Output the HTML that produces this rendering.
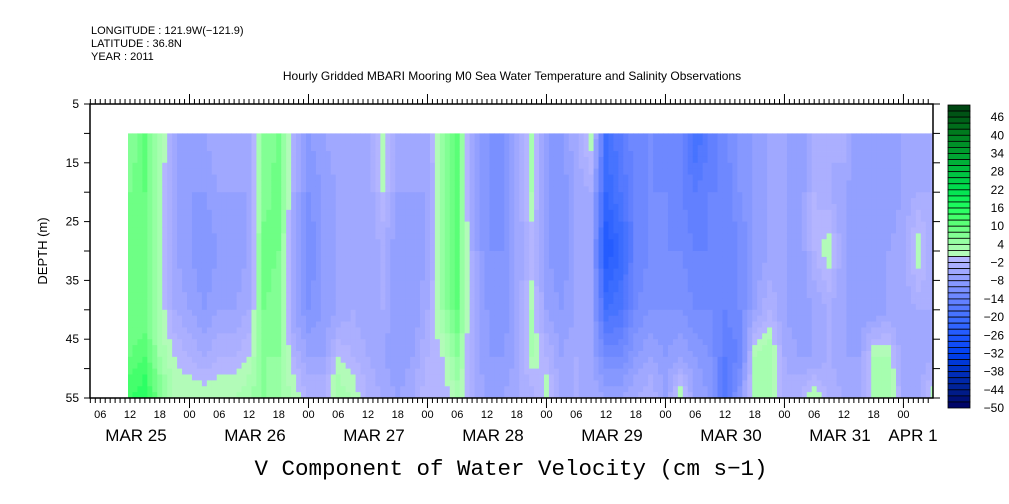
<!DOCTYPE html>
<html><head><meta charset="utf-8"><style>
body{margin:0;background:#fff}
svg{display:block;font-family:"Liberation Sans",sans-serif}
</style></head><body>
<svg id="chart" width="1009" height="504" viewBox="0 0 1009 504">
<g font-size="11" fill="#000">
<text x="91" y="34">LONGITUDE : 121.9W(−121.9)</text>
<text x="91" y="47">LATITUDE : 36.8N</text>
<text x="91" y="60">YEAR : 2011</text>
<text x="512" y="80" text-anchor="middle" font-size="12">Hourly Gridded MBARI Mooring M0 Sea Water Temperature and Salinity Observations</text>
</g>
<g id="cells"></g>
<g id="axes"></g>
<g id="cbar"></g>
<text x="47" y="251" transform="rotate(-90 47 251)" text-anchor="middle" font-size="13">DEPTH (m)</text>
<text x="511" y="475" text-anchor="middle" font-family="Liberation Mono,monospace" font-size="22.5">V Component of Water Velocity (cm s−1)</text>
</svg>
<script>
// hours since MAR 25 00:00, one column every 3 h
const hours = [12,15,18,21,24,27,30,33,36,39,42,45,48,51,54,57,60,63,66,69,72,75,78,81,84,87,90,93,96,99,102,105,108,111,114,117,120,123,126,129,132,135,138,141,144,147,150,153,156,159,162,165,168,171,174];
const depths = [10,20,30,40,48,55];
const vel = [
[6,8,8,8,10,14],[10,10,8,8,12,16],[4,2,2,2,4,8],[-6,-6,-6,-4,0,2],[-8,-8,-8,-6,-2,2],
[-6,-8,-10,-8,-4,2],[-4,-6,-8,-6,-2,2],[-4,-6,-8,-6,-2,2],[-4,-6,-6,-4,0,4],[6,6,10,8,6,6],
[8,10,8,6,6,4],[-4,-4,-6,-6,-2,2],[-8,-10,-12,-10,-6,-2],[-6,-8,-8,-8,-6,-2],[-4,-6,-6,-6,0,4],
[-4,-6,-6,-4,-2,2],[-4,-6,-6,-6,-4,-2],[2,0,-4,-4,-6,-4],[-4,-6,-8,-8,-8,-6],[-6,-6,-8,-8,-6,-4],
[-4,-6,-6,-4,-2,0],[4,4,4,4,0,-2],[10,10,10,10,6,2],[-6,-6,-4,-4,-4,-4],[-10,-10,-10,-8,-8,-6],
[-10,-12,-10,-10,-8,-6],[-6,-6,-6,-6,-6,-4],[2,2,-2,2,2,-4],[-8,-8,-8,-6,-2,2],[-8,-10,-10,-8,-6,-4],
[-4,-6,-6,-6,-4,-4],[2,-4,-6,-6,-6,-4],[-20,-22,-26,-20,-12,-6],[-16,-18,-22,-18,-12,-6],[-12,-14,-14,-12,-8,-4],
[-12,-12,-12,-10,-6,-2],[-14,-12,-12,-10,-8,-6],[-14,-14,-12,-10,-6,2],[-20,-16,-14,-12,-8,-6],[-16,-14,-14,-12,-10,-8],
[-12,-14,-14,-14,-16,-18],[-10,-10,-12,-12,-14,-8],[-8,-8,-8,-6,2,4],[-6,-6,-6,-2,4,2],[-6,-6,-6,-6,-4,-4],
[-8,-8,-8,-8,-6,-2],[-4,-2,-2,-6,-6,2],[-4,-4,2,-4,-4,-2],[-2,-6,-6,-6,-6,-4],[-8,-8,-8,-8,-6,-4],
[-8,-8,-8,-8,2,2],[-6,-8,-6,-6,2,4],[-6,-6,-4,-6,-6,-4],[-6,-4,2,-4,-6,-4],[-4,-4,-4,-4,-4,2]];
const cbarTicks = [46,40,34,28,22,16,10,4,-2,-8,-14,-20,-26,-32,-38,-44,-50];
const hourLabels = ["06","12","18","00","06","12","18","00","06","12","18","00","06","12","18","00","06","12","18","00","06","12","18","00","06","12","18","00","06","12","18","00"];
const dayLabels = ["MAR 25","MAR 26","MAR 27","MAR 28","MAR 29","MAR 30","MAR 31","APR 1"];
const depthTicks = [5,15,25,35,45,55];

const NS="http://www.w3.org/2000/svg";
const X0=70.5, PXH=4.958, L=90, R=933, T=104, B=398;
const xs=h=>X0+h*PXH, ys=d=>T+(d-5)/50*(B-T);
function el(tag,a,p){const e=document.createElementNS(NS,tag);for(const k in a)e.setAttribute(k,a[k]);p.appendChild(e);return e;}
const negStops=[[0,[184,184,255]],[-4,[166,172,255]],[-8,[140,156,255]],[-12,[116,140,255]],[-16,[92,124,255]],[-20,[64,112,255]],[-26,[32,88,255]],[-32,[0,64,240]],[-38,[0,48,192]],[-44,[0,32,144]],[-50,[0,0,96]]];
const posStops=[[0,[184,250,188]],[4,[160,255,170]],[8,[120,255,140]],[12,[80,255,112]],[16,[32,255,96]],[22,[0,224,80]],[28,[0,192,64]],[34,[0,160,48]],[40,[0,128,32]],[50,[0,64,16]]];
function color(v){
  const lv=Math.floor(v/2)*2+1;
  const st=lv<0?negStops:posStops; const a=Math.abs(lv);
  for(let i=0;i<st.length-1;i++){const a0=Math.abs(st[i][0]),a1=Math.abs(st[i+1][0]);
    if(a<=a1){const t=(a-a0)/(a1-a0);const c=st[i][1].map((c0,j)=>Math.round(c0+(st[i+1][1][j]-c0)*t));return `rgb(${c})`;}}
  return `rgb(${st[st.length-1][1]})`;
}
function valAt(ci,d){const col=vel[ci];for(let k=0;k<depths.length-1;k++){if(d<=depths[k+1]){const t=(d-depths[k])/(depths[k+1]-depths[k]);return col[k]+(col[k+1]-col[k])*t;}}return col[col.length-1];}
const cells=document.getElementById('cells');
for(let i=0;i<hours.length;i++){
  for(let s=0;s<3;s++){
    const h=hours[i]-1+s; if(i===0&&s===0)continue;
    const x=Math.max(128,xs(h-0.5)), x2=Math.min(R,xs(h+0.5)); if(x2<=x)continue;
    for(let d=10;d<55;d++){
      const ni=Math.min(hours.length-1,i+(s===2?1:0)), pi=Math.max(0,i-(s===0?1:0));
      let v=valAt(i,d+0.5);
      if(s===0)v=(2*v+valAt(pi,d+0.5))/3; if(s===2)v=(2*v+valAt(ni,d+0.5))/3;
      const r=el('rect',{x:x.toFixed(2),y:ys(d).toFixed(2),width:(x2-x+0.4).toFixed(2),height:(ys(d+1)-ys(d)+0.4).toFixed(2),fill:color(v)},cells);
      
      
    }
  }
}
const ax=document.getElementById('axes');
const fr=el('rect',{x:L,y:T,width:R-L,height:B-T,fill:'none',stroke:'#000','stroke-width':1.5},ax);


for(let h=4;h<=174;h++){const x=xs(h);if(x<L||x>R)continue;const big=h%24===0;
  el('line',{x1:x,y1:T,x2:x,y2:T-(big?10:5),stroke:'#000'},ax);
  el('line',{x1:x,y1:B,x2:x,y2:B+(big?10:5),stroke:'#000'},ax);}
for(let d=5;d<=55;d+=5){el('line',{x1:L,y1:ys(d),x2:L-6,y2:ys(d),stroke:'#000'},ax);el('line',{x1:R,y1:ys(d),x2:R+7,y2:ys(d),stroke:'#000'},ax);}
depthTicks.forEach(d=>{const t=el('text',{x:L-11,y:ys(d)+4,'text-anchor':'end','font-size':12},ax);t.textContent=d;
  
  });
hourLabels.forEach((lb,i)=>{const h=6+i*6;const x=xs(h);if(x>912)return;const t=el('text',{x:x,y:418,'text-anchor':'middle','font-size':11},ax);t.textContent=lb;
  
  });
dayLabels.forEach((lb,i)=>{let x=xs(12+i*24)+6;if(i===6)x=840;if(i===7)x=913;const t=el('text',{x:x,y:441,'text-anchor':'middle','font-size':17},ax);t.textContent=lb;
  
  });
const cb=document.getElementById('cbar');
const CX=948,CW=22,CT=105,CB=408;const cy=v=>CT+(50-v)/100*(CB-CT);
for(let v=50;v>-50;v-=2){const r=el('rect',{x:CX,y:cy(v),width:CW,height:cy(v-2)-cy(v),fill:color(v-1),stroke:'#000','stroke-width':0.8},cb);
  
  }
cbarTicks.forEach(v=>{const t=el('text',{x:1004,y:cy(v)+4,'text-anchor':'end','font-size':12},cb);t.textContent=v<0?'−'+(-v):v;
  
  });
</script>
</body></html>
